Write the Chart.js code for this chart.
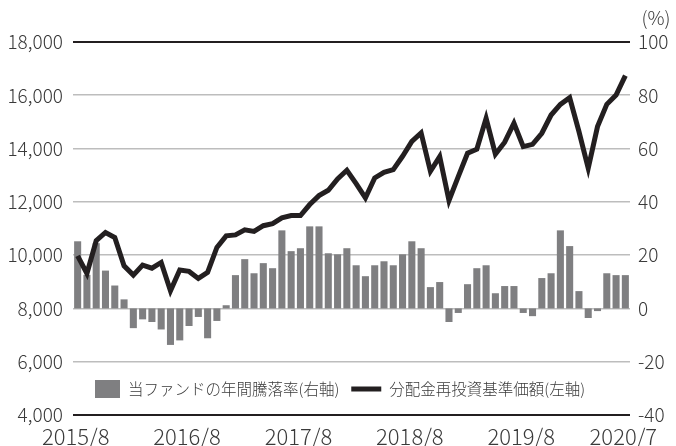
<!DOCTYPE html>
<html>
<head>
<meta charset="utf-8">
<script src="https://cdn.jsdelivr.net/npm/chart.js@4/dist/chart.umd.min.js"></script>
<style>
html,body{margin:0;padding:0;background:#fff;}
#wrap{width:676px;height:446px;position:relative;}
</style>
</head>
<body>
<div id="wrap"><canvas id="c" width="676" height="446"></canvas></div>
<script>
const months = [
 '2015/8','2015/9','2015/10','2015/11','2015/12','2016/1','2016/2','2016/3','2016/4','2016/5','2016/6','2016/7',
 '2016/8','2016/9','2016/10','2016/11','2016/12','2017/1','2017/2','2017/3','2017/4','2017/5','2017/6','2017/7',
 '2017/8','2017/9','2017/10','2017/11','2017/12','2018/1','2018/2','2018/3','2018/4','2018/5','2018/6','2018/7',
 '2018/8','2018/9','2018/10','2018/11','2018/12','2019/1','2019/2','2019/3','2019/4','2019/5','2019/6','2019/7',
 '2019/8','2019/9','2019/10','2019/11','2019/12','2020/1','2020/2','2020/3','2020/4','2020/5','2020/6','2020/7'
];
const tickLabels = ['2015/8','2016/8','2017/8','2018/8','2019/8','2020/7'];
// 当ファンドの年間騰落率 (%), right axis
const annualReturn = [
 25.2, 12.6, 24.5, 14.2, 8.6, 3.4, -7.4, -4.1, -5.1, -7.9, -13.7, -12.0,
 -6.6, -3.2, -11.2, -4.7, 1.2, 12.5, 18.5, 13.2, 17.0, 15.1, 29.3, 21.5,
 22.6, 30.8, 30.8, 20.7, 20.3, 22.6, 16.2, 12.1, 16.2, 17.7, 16.2, 20.3,
 25.2, 22.6, 8.0, 9.9, -5.1, -1.7, 9.1, 15.1, 16.2, 5.7, 8.4, 8.4,
 -1.7, -2.9, 11.4, 13.2, 29.3, 23.4, 6.5, -3.6, -1.0, 13.2, 12.5, 12.5
];
// 分配金再投資基準価額 (円), left axis
const navReinvested = [
 9975, 9310, 10540, 10850, 10660, 9600, 9250, 9625, 9510, 9725, 8660, 9440,
 9390, 9125, 9350, 10290, 10725, 10760, 10950, 10890, 11105, 11185, 11400, 11485,
 11485, 11900, 12235, 12435, 12860, 13185, 12685, 12150, 12900, 13110, 13210, 13710,
 14270, 14590, 13150, 13700, 12050, 12950, 13825, 13975, 15140, 13790, 14240, 14950,
 14075, 14160, 14575, 15260, 15660, 15910, 14640, 13260, 14825, 15660, 16010, 16740
];
const leftTicks = {min: 4000, max: 18000, step: 2000};
const rightTicks = {min: -40, max: 100, step: 20};
const seriesNames = ['当ファンドの年間騰落率(右軸)', '分配金再投資基準価額(左軸)'];

const FONT = "'Noto Sans CJK JP', 'Noto Sans', sans-serif";
const TXT = '#3a3a3a';
const BAR = '#7f7f81';
const LINE = '#231f20';
Chart.defaults.font.family = FONT;
Chart.defaults.font.weight = '300';
Chart.defaults.color = TXT;

const overlay = {
  id: 'overlay',
  afterDraw(chart) {
    const ctx = chart.ctx, ca = chart.chartArea;
    ctx.save();
    // (%) unit label
    ctx.fillStyle = TXT;
    ctx.font = "300 19px " + FONT;
    ctx.textAlign = 'center';
    ctx.textBaseline = 'middle';
    ctx.fillText('(%)', ca.right + 26, ca.top - 24);
    // legend
    const ly = ca.bottom - 26;
    ctx.fillStyle = BAR;
    ctx.fillRect(ca.left + 22, ly - 9, 25, 18);
    ctx.font = "300 15.5px " + FONT;
    ctx.textAlign = 'left';
    ctx.fillStyle = TXT;
    ctx.fillText(seriesNames[0], ca.left + 55, ly);
    const w0 = ctx.measureText(seriesNames[0]).width;
    const lx = ca.left + 55 + w0 + 12;
    ctx.strokeStyle = LINE;
    ctx.lineWidth = 5;
    ctx.beginPath();
    ctx.moveTo(lx, ly);
    ctx.lineTo(lx + 30, ly);
    ctx.stroke();
    ctx.fillText(seriesNames[1], lx + 38, ly);
    ctx.restore();
  }
};

new Chart(document.getElementById('c'), {
  type: 'bar',
  data: {
    labels: months,
    datasets: [
      {
        type: 'line',
        label: seriesNames[1],
        data: navReinvested,
        yAxisID: 'y',
        borderColor: LINE,
        borderWidth: 5,
        pointRadius: 0,
        tension: 0,
        borderJoinStyle: 'miter',
        order: 0
      },
      {
        type: 'bar',
        label: seriesNames[0],
        data: annualReturn,
        yAxisID: 'y1',
        backgroundColor: BAR,
        categoryPercentage: 1.0,
        barPercentage: 0.76,
        order: 1
      }
    ]
  },
  options: {
    responsive: false,
    animation: false,
    layout: {padding: {top: 42, left: 0, right: 0, bottom: 0}},
    plugins: {legend: {display: false}, tooltip: {enabled: false}},
    scales: {
      x: {
        grid: {display: false},
        border: {display: false},
        ticks: {
          autoSkip: false,
          maxRotation: 0,
          minRotation: 0,
          padding: 0,
          labelOffset: -2,
          font: {size: 22},
          color: TXT,
          callback: function(v, i) { return tickLabels.includes(months[i]) ? months[i] : ''; }
        },
        afterFit(s) { s.height = 31; }
      },
      y: {
        position: 'left',
        min: leftTicks.min, max: leftTicks.max,
        ticks: {
          stepSize: leftTicks.step,
          padding: 10,
          font: {size: 19},
          color: TXT,
          callback: v => v.toLocaleString('en-US')
        },
        grid: {
          drawTicks: false,
          color: c => (c.tick && (c.tick.value === leftTicks.min || c.tick.value === leftTicks.max)) ? LINE : '#bdbdbd',
          lineWidth: c => (c.tick && (c.tick.value === leftTicks.min || c.tick.value === leftTicks.max)) ? 2 : 1.6
        },
        border: {display: false},
        afterFit(s) { s.width = 73; }
      },
      y1: {
        position: 'right',
        min: rightTicks.min, max: rightTicks.max,
        ticks: {stepSize: rightTicks.step, padding: 8, font: {size: 19}, color: TXT},
        grid: {display: false, drawTicks: false},
        border: {display: false},
        afterFit(s) { s.width = 46; }
      }
    }
  },
  plugins: [overlay]
});
</script>
</body>
</html>
